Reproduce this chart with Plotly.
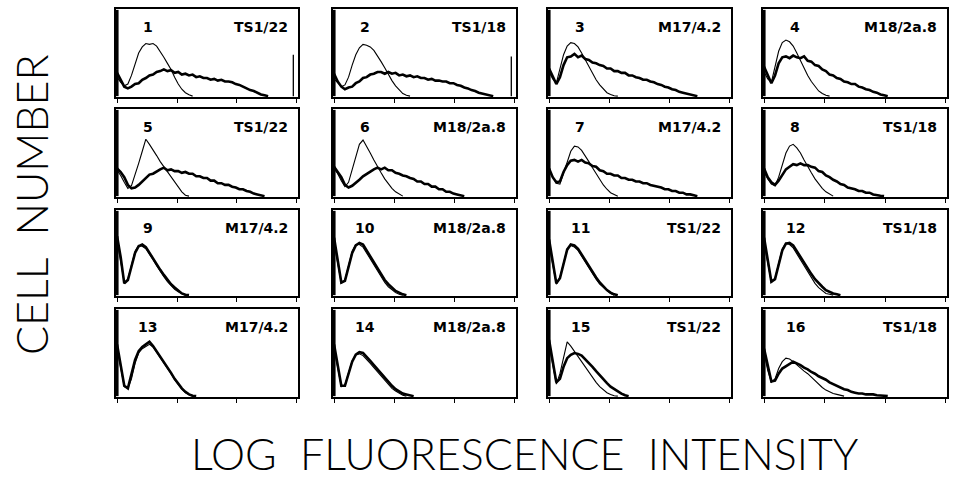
import plotly.graph_objects as go

# ---------------- data ----------------
# Channel grid (percent of log-fluorescence axis), one value every 2 units
X_STEP = 2
PANEL_NUMBERS = ["1", "2", "3", "4", "5", "6", "7", "8",
                 "9", "10", "11", "12", "13", "14", "15", "16"]
ANTIBODIES = ["TS1/22", "TS1/18", "M17/4.2", "M18/2a.8",
              "TS1/22", "M18/2a.8", "M17/4.2", "TS1/18",
              "M17/4.2", "M18/2a.8", "TS1/22", "TS1/18",
              "M17/4.2", "M18/2a.8", "TS1/22", "TS1/18"]

# thin line (control) histograms, cell number in % of panel height
thin_1 = [22, 16, 12, 14, 24, 38, 50, 57, 61, 60, 61, 58, 52, 45, 38, 31, 22, 14, 8, 4, 1.5, 0]
thin_2 = [20, 15, 11, 13, 22, 36, 48, 56, 60, 59, 57, 53, 47, 40, 33, 25, 18, 12, 7, 3, 1, 0]
thin_3 = [28, 20, 15, 30, 48, 58, 62, 61, 57, 50, 42, 34, 26, 19, 13, 8, 4, 2, 0.5, 0]
thin_4 = [28, 20, 16, 34, 52, 62, 65, 63, 58, 50, 41, 32, 24, 17, 11, 6, 3, 1, 0]
thin_5 = [30, 24, 16, 9, 12, 24, 38, 52, 66, 60, 54, 47, 40, 34, 28, 23, 17, 11, 5, 1, 0]
thin_6 = [32, 26, 18, 11, 16, 30, 46, 60, 65, 58, 50, 42, 34, 27, 20, 14, 9, 5, 2, 0]
thin_7 = [30, 22, 15, 14, 26, 40, 52, 58, 57, 53, 47, 40, 33, 26, 19, 13, 8, 4, 2, 0]
thin_8 = [28, 20, 14, 12, 22, 36, 50, 58, 60, 56, 50, 42, 34, 27, 20, 14, 9, 5, 2, 0]
thin_9 = [65, 40, 15, 19, 36, 52, 59, 58, 55, 49, 42, 35, 28, 22, 16, 11, 7, 4, 1.5, 0]
thin_10 = [62, 38, 14, 18, 35, 52, 60, 60, 57, 50, 42, 35, 28, 21, 15, 10, 6, 3, 1, 0]
thin_11 = [60, 36, 13, 21, 40, 55, 59, 57, 53, 46, 39, 32, 25, 19, 13, 9, 5, 2, 0]
thin_12 = [62, 38, 15, 20, 38, 55, 62, 60, 56, 49, 42, 34, 27, 20, 14, 9, 5, 2, 1, 0]
thin_13 = [55, 32, 11, 9, 20, 38, 50, 55, 58, 60, 57, 51, 45, 39, 33, 26, 19, 13, 8, 4, 1.5, 0]
thin_14 = [55, 32, 11, 13, 27, 41, 48, 49, 47, 43, 38, 33, 28, 23, 18, 13, 9, 6, 3, 1, 0]
thin_15 = [60, 36, 14, 26, 46, 63, 58, 52, 46, 40, 33, 27, 21, 16, 11, 7, 4, 2, 0.5, 0]
thin_16 = [50, 30, 16, 20, 32, 40, 44, 43, 40, 36, 32, 29, 26, 22, 17, 13, 10, 7, 5, 3, 2, 1, 0]

# thick line (stained) histograms
thick_1 = [27, 18, 11, 9, 11, 14, 15, 19, 21, 24, 25, 28, 29, 31, 29, 30, 27, 28, 25, 26, 24,
           25, 22, 23, 21, 21, 19, 20, 18, 19, 17, 17, 16, 14, 13, 11, 9, 7, 6, 4, 2, 1, 0]
thick_2 = [26, 17, 11, 8, 10, 11, 15, 17, 21, 22, 25, 26, 28, 28, 26, 28, 26, 27, 24, 25, 23,
           24, 22, 23, 21, 21, 19, 20, 18, 18, 17, 17, 15, 15, 13, 12, 10, 9, 7, 6, 4, 3, 2, 1, 0]
thick_3 = [32, 22, 14, 22, 36, 45, 46, 49, 45, 47, 43, 42, 39, 38, 36, 35, 32, 32, 29, 29, 27,
           27, 24, 24, 22, 21, 19, 19, 17, 16, 14, 13, 11, 10, 8, 7, 5, 4, 3, 2, 1, 0]
thick_4 = [34, 24, 15, 24, 38, 45, 46, 44, 47, 45, 44, 46, 41, 40, 36, 35, 31, 29, 25, 24, 21,
           20, 17, 16, 14, 14, 11, 10, 8, 7, 5, 4, 2, 1, 0]
thick_5 = [32, 28, 22, 13, 9, 10, 13, 17, 21, 25, 26, 29, 31, 33, 30, 31, 29, 29, 27, 28, 26,
           26, 23, 23, 21, 21, 18, 18, 15, 15, 13, 13, 11, 10, 8, 8, 6, 5, 3, 2, 1, 0]
thick_6 = [34, 28, 22, 13, 10, 12, 15, 19, 23, 26, 29, 31, 33, 31, 33, 30, 30, 27, 26, 24, 23,
           21, 20, 17, 17, 14, 14, 11, 11, 8, 8, 5, 5, 3, 2, 1, 0]
thick_7 = [32, 22, 16, 17, 28, 36, 41, 42, 40, 42, 39, 38, 35, 34, 30, 29, 26, 26, 24, 24, 21,
           21, 19, 19, 17, 17, 15, 15, 13, 12, 11, 10, 8, 8, 6, 6, 4, 4, 2, 2, 1, 0]
thick_8 = [32, 22, 16, 13, 18, 25, 31, 34, 37, 36, 38, 36, 36, 34, 33, 29, 28, 24, 22, 19, 17,
           14, 13, 10, 9, 8, 6, 6, 4, 4, 2, 1, 0.5, 0]
thick_9 = [70, 45, 14, 18, 34, 50, 58, 60, 57, 50, 43, 37, 30, 24, 18, 13, 9, 5, 2, 0.5, 0]
thick_10 = [68, 42, 15, 17, 33, 50, 59, 62, 60, 53, 45, 38, 31, 24, 18, 13, 9, 5, 3, 1, 0]
thick_11 = [66, 40, 14, 20, 38, 54, 60, 59, 55, 48, 41, 34, 27, 21, 15, 10, 6, 3, 1, 0]
thick_12 = [68, 42, 16, 19, 36, 53, 61, 62, 59, 52, 45, 38, 31, 25, 19, 14, 10, 6, 4, 2, 1, 0]
thick_13 = [60, 36, 12, 9, 24, 42, 52, 57, 60, 63, 58, 52, 46, 40, 34, 27, 20, 14, 9, 5, 2, 0.5, 0]
thick_14 = [60, 36, 12, 12, 26, 40, 48, 51, 50, 46, 41, 36, 31, 26, 21, 16, 12, 8, 5, 3, 2, 1, 0]
thick_15 = [65, 40, 16, 20, 34, 44, 48, 50, 49, 47, 43, 39, 34, 29, 24, 19, 15, 11, 8, 5, 3, 1, 0]
thick_16 = [55, 34, 17, 18, 26, 32, 35, 38, 40, 38, 36, 33, 31, 28, 26, 23, 21, 19, 16, 14, 12,
            10, 8, 7, 5, 4, 3, 3, 2, 2, 2, 1, 1, 0.5, 0]

THIN = [thin_1, thin_2, thin_3, thin_4, thin_5, thin_6, thin_7, thin_8,
        thin_9, thin_10, thin_11, thin_12, thin_13, thin_14, thin_15, thin_16]
THICK = [thick_1, thick_2, thick_3, thick_4, thick_5, thick_6, thick_7, thick_8,
         thick_9, thick_10, thick_11, thick_12, thick_13, thick_14, thick_15, thick_16]

# off-scale spike in the lowest channel (height per panel, % of panel height)
LEFT_SPIKE_X = 0
left_spike = [100, 100, 100, 100, 100, 100, 100, 100,
              100, 100, 100, 100, 100, 100, 100, 100]
# overflow spike at the top channel (panel number -> height)
RIGHT_SPIKE_X = 98
right_spike = {1: 48, 2: 46}

# ---------------- layout ----------------
W, H = 954, 479
COLS = [(116, 298), (333, 516), (548, 731), (763, 947)]
ROWS = [(9, 97), (109, 197), (210, 296), (309, 397)]
TICKS = [0, 100 / 3, 200 / 3, 100]
LABEL_FONT = dict(family="DejaVu Sans", size=14, color="black", weight="bold")
TITLE_FONT = dict(family="Lato", size=43, color="black", weight=300)

fig = go.Figure()
annotations = []
for k in range(16):
    r, c = divmod(k, 4)
    n = k + 1
    xa = "x" if n == 1 else f"x{n}"
    ya = "y" if n == 1 else f"y{n}"
    fig.add_trace(go.Scatter(x=[LEFT_SPIKE_X, LEFT_SPIKE_X], y=[0, left_spike[k]],
                             mode="lines", xaxis=xa, yaxis=ya, hoverinfo="skip",
                             line=dict(color="black", width=3), showlegend=False))
    for ys, lw in ((THIN[k], 1.1), (THICK[k], 2.6)):
        xs = [i * X_STEP for i in range(len(ys))]
        fig.add_trace(go.Scatter(x=xs, y=ys, mode="lines", xaxis=xa, yaxis=ya,
                                 line=dict(color="black", width=lw), hoverinfo="skip",
                                 showlegend=False))
    if n in right_spike:
        fig.add_trace(go.Scatter(x=[RIGHT_SPIKE_X, RIGHT_SPIKE_X], y=[0, right_spike[n]],
                                 mode="lines", xaxis=xa, yaxis=ya, hoverinfo="skip",
                                 line=dict(color="black", width=1.3), showlegend=False))
    x0, x1 = COLS[c]
    t, b = ROWS[r]
    key = "" if n == 1 else str(n)
    fig.layout["xaxis" + key] = dict(
        domain=[x0 / W, x1 / W], range=[-0.6, 100.6], anchor=ya,
        showline=True, mirror=True, linecolor="black", linewidth=1.6,
        ticks="outside", tickvals=TICKS, ticklen=4, tickwidth=1.3, tickcolor="black",
        showticklabels=False, showgrid=False, zeroline=False, fixedrange=True)
    fig.layout["yaxis" + key] = dict(
        domain=[1 - b / H, 1 - t / H], range=[-1, 101], anchor=xa,
        showline=True, mirror=True, linecolor="black", linewidth=1.6,
        ticks="", showticklabels=False, showgrid=False, zeroline=False, fixedrange=True)
    ly = 1 - (t + 18) / H
    annotations.append(dict(x=(x0 + 0.175 * (x1 - x0)) / W, y=ly, xref="paper", yref="paper",
                            text=PANEL_NUMBERS[k], showarrow=False, xanchor="center",
                            yanchor="middle", font=LABEL_FONT))
    annotations.append(dict(x=(x1 - 8) / W, y=ly, xref="paper", yref="paper",
                            text=ANTIBODIES[k], showarrow=False, xanchor="right",
                            yanchor="middle", font=LABEL_FONT))

annotations.append(dict(x=31 / W, y=1 - 205 / H, xref="paper", yref="paper",
                        text="CELL  NUMBER", textangle=-90, showarrow=False,
                        xanchor="center", yanchor="middle", font=TITLE_FONT))
annotations.append(dict(x=525 / W, y=1 - 453 / H, xref="paper", yref="paper",
                        text="LOG  FLUORESCENCE  INTENSITY", showarrow=False,
                        xanchor="center", yanchor="middle", font=TITLE_FONT))

fig.update_layout(width=W, height=H, margin=dict(l=0, r=0, t=0, b=0),
                  paper_bgcolor="white", plot_bgcolor="white",
                  annotations=annotations, showlegend=False)
fig.write_html("out.html", config={"displayModeBar": False},
               post_script="document.body.style.margin='0px';"
                           "document.body.style.overflow='hidden';")
